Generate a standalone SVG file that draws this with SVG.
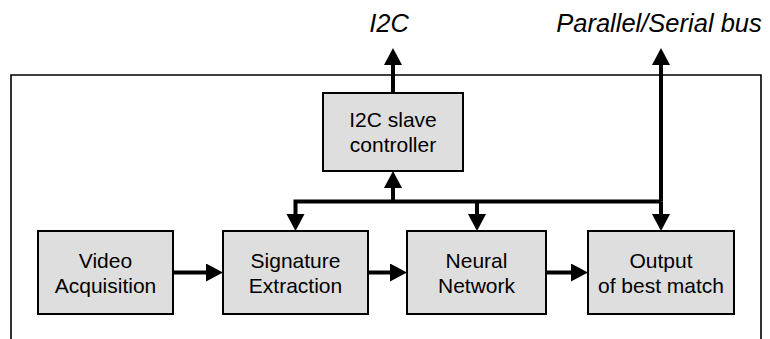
<svg xmlns="http://www.w3.org/2000/svg" width="770" height="339" viewBox="0 0 770 339">
  <style>
    .frame { fill: none; stroke: #000; stroke-width: 1.6; }
    .box { fill: #dedede; stroke: #000; stroke-width: 2; }
    .lbl { font-family: "Liberation Sans", Arial, sans-serif; font-size: 21px; fill: #000; text-anchor: middle; }
    .bus { font-family: "Liberation Sans", Arial, sans-serif; font-size: 25.5px; font-style: italic; fill: #000; text-anchor: middle; }
    .wire { fill: none; stroke: #000; stroke-width: 4; stroke-linejoin: miter; }
    .arr { marker-end: url(#head); }
  </style>
  <defs>
    <marker id="head" markerUnits="userSpaceOnUse" markerWidth="19" markerHeight="19" refX="9" refY="9" orient="auto">
      <path d="M0,0 L17,9 L0,18 Z" fill="#000"/>
    </marker>
  </defs>

  <rect width="770" height="339" fill="#fff"/>

  <!-- chip outline, open at the bottom -->
  <path class="frame" d="M11,339 V75 H761 V339"/>

  <!-- external bus labels -->
  <text class="bus" x="389" y="32">I2C</text>
  <text class="bus" x="659" y="32">Parallel/Serial bus</text>

  <g id="connectors">
    <path class="wire arr" d="M173,272.5 H215"/>
    <path class="wire arr" d="M368,272.5 H399"/>
    <path class="wire arr" d="M546,272.5 H580"/>
    <path class="wire arr" d="M661,201.5 H295.5 V223"/>
    <path class="wire arr" d="M477,201.5 V223"/>
    <path class="wire arr" d="M393,201.5 V179"/>
    <path class="wire arr" d="M393,93 V56"/>
    <path class="wire arr" d="M661,201.5 V56"/>
    <path class="wire arr" d="M661,201.5 V223"/>
  </g>

  <g id="i2c-slave">
    <rect class="box" x="323" y="93" width="140" height="78"/>
    <text class="lbl" x="393" y="127">I2C slave</text>
    <text class="lbl" x="393" y="152">controller</text>
  </g>

  <g id="video-acquisition">
    <rect class="box" x="38" y="231" width="135" height="83"/>
    <text class="lbl" x="105.5" y="268">Video</text>
    <text class="lbl" x="105.5" y="293">Acquisition</text>
  </g>

  <g id="signature-extraction">
    <rect class="box" x="223" y="231" width="145" height="83"/>
    <text class="lbl" x="295.5" y="268">Signature</text>
    <text class="lbl" x="295.5" y="293">Extraction</text>
  </g>

  <g id="neural-network">
    <rect class="box" x="407" y="231" width="139" height="83"/>
    <text class="lbl" x="476.5" y="268">Neural</text>
    <text class="lbl" x="476.5" y="293">Network</text>
  </g>

  <g id="output-best-match">
    <rect class="box" x="588" y="231" width="146" height="83"/>
    <text class="lbl" x="661" y="268">Output</text>
    <text class="lbl" x="661" y="293">of best match</text>
  </g>
</svg>
